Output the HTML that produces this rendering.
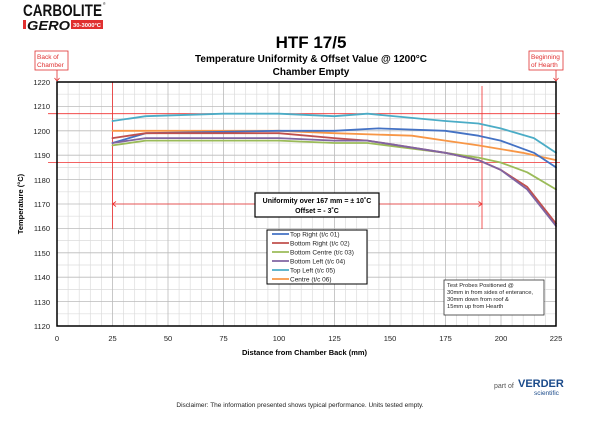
<!DOCTYPE html>
<html><head><meta charset="utf-8"><style>
body{margin:0;background:#fff;width:600px;height:416px;overflow:hidden;font-family:"Liberation Sans",sans-serif}
</style></head><body>
<svg width="600" height="416" viewBox="0 0 600 416" xmlns="http://www.w3.org/2000/svg" font-family="Liberation Sans, sans-serif">
<!-- logo -->
<text x="23" y="16" font-size="17" font-weight="bold" fill="#111" textLength="79" lengthAdjust="spacingAndGlyphs">CARBOLITE</text>
<text x="103" y="5" font-size="3.5" fill="#111">®</text>
<rect x="23" y="20" width="3" height="9" fill="#e03030"/>
<text x="27" y="30" font-size="13" font-weight="bold" font-style="italic" fill="#111" textLength="43" lengthAdjust="spacingAndGlyphs">GERO</text>
<rect x="71" y="20" width="32" height="9" fill="#e03030"/>
<text x="73" y="27" font-size="5.5" fill="#fff" font-weight="bold" textLength="28" lengthAdjust="spacingAndGlyphs">30-3000°C</text>
<!-- titles -->
<text x="311" y="48" font-size="17" font-weight="bold" text-anchor="middle" fill="#000">HTF 17/5</text>
<text x="311" y="62" font-size="10" font-weight="bold" text-anchor="middle">Temperature Uniformity &amp; Offset Value @ 1200°C</text>
<text x="311" y="75" font-size="10" font-weight="bold" text-anchor="middle">Chamber Empty</text>
<!-- annotations -->
<rect x="35" y="51" width="33" height="19" fill="#fff" stroke="#e03030" stroke-width="0.8"/>
<text x="37" y="59" font-size="6.5" fill="#e03030">Back of</text>
<text x="37" y="67" font-size="6.5" fill="#e03030">Chamber</text>
<path d="M57 70V81M54.5 78L57 81L59.5 78" stroke="#e03030" fill="none" stroke-width="0.8"/>
<rect x="529" y="51" width="34" height="19" fill="#fff" stroke="#e03030" stroke-width="0.8"/>
<text x="531" y="59" font-size="6.5" fill="#e03030">Beginning</text>
<text x="531" y="67" font-size="6.5" fill="#e03030">of Hearth</text>
<path d="M556 70V81M553.5 78L556 81L558.5 78" stroke="#e03030" fill="none" stroke-width="0.8"/>
<!-- grid -->
<g stroke="#dcdcdc" stroke-width="0.7">
<path d="M68.1 82V326M79.2 82V326M90.3 82V326M101.4 82V326M123.6 82V326M134.7 82V326M145.8 82V326M156.9 82V326M179.1 82V326M190.2 82V326M201.3 82V326M212.4 82V326M234.6 82V326M245.7 82V326M256.8 82V326M267.9 82V326M290.1 82V326M301.2 82V326M312.3 82V326M323.4 82V326M345.6 82V326M356.7 82V326M367.8 82V326M378.9 82V326M401.1 82V326M412.2 82V326M423.3 82V326M434.4 82V326M456.6 82V326M467.7 82V326M478.8 82V326M489.9 82V326M512.1 82V326M523.2 82V326M534.3 82V326M545.4 82V326"/>
<path d="M57 94.2H556M57 118.6H556M57 143H556M57 167.4H556M57 191.8H556M57 216.2H556M57 240.6H556M57 265H556M57 289.4H556M57 313.8H556"/>
</g>
<g stroke="#bbbbbb" stroke-width="0.8">
<path d="M112.5 82V326M168 82V326M223.5 82V326M279 82V326M334.5 82V326M390 82V326M445.5 82V326M501 82V326"/>
<path d="M57 106.4H556M57 130.8H556M57 155.2H556M57 179.6H556M57 204H556M57 228.4H556M57 252.8H556M57 277.2H556M57 301.6H556"/>
</g>
<!-- red markers -->
<g stroke="#f03030" stroke-width="0.8" fill="none">
<path d="M48 113.7H560M48 162.5H560M112.5 82V229M482 86V229"/>
<path d="M112.5 204H255M379 204H482M116 201.5L112.5 204L116 206.5M478.5 201.5L482 204L478.5 206.5"/>
</g>
<!-- series -->
<g fill="none" stroke-width="1.8" stroke-linejoin="round" stroke-linecap="round">
<polyline stroke="#4BACC6" points="112.5,121 145.7,116.2 223.4,113.7 278.8,113.7 334.3,116.2 367.5,113.7 445.2,121 478.4,123.5 500.6,128.4 533.9,138.1 556,152.8"/>
<polyline stroke="#F79646" points="112.5,130.8 278.8,130.8 334.3,133.2 411.9,135.7 445.2,140.6 478.4,145.4 522.8,152.8 556,160.1"/>
<polyline stroke="#4472C4" points="112.5,143 145.7,133.2 278.8,130.8 334.3,130.8 378.6,128.4 445.2,130.8 478.4,135.7 500.6,140.6 533.9,152.8 556,167.4"/>
<polyline stroke="#9BBB59" points="112.5,145.4 145.7,140.6 278.8,140.6 334.3,143 367.5,143 445.2,152.8 478.4,157.6 500.6,162.5 527.2,172.3 556,189.4"/>
<polyline stroke="#C0504D" points="112.5,138.1 145.7,133.2 278.8,133.2 334.3,138.1 367.5,140.6 445.2,152.8 478.4,160.1 500.6,169.8 527.2,186.9 556,223.5"/>
<polyline stroke="#8064A2" points="112.5,143 145.7,138.1 278.8,138.1 334.3,140.6 367.5,140.6 445.2,152.8 478.4,160.1 500.6,169.8 527.2,189.4 556,226"/>
</g>
<!-- plot border -->
<rect x="57" y="82" width="499" height="244" fill="none" stroke="#000" stroke-width="1.5"/>
<!-- y labels -->
<g font-size="7.5" text-anchor="end" fill="#222">
<text x="50" y="85">1220</text><text x="50" y="109">1210</text><text x="50" y="134">1200</text><text x="50" y="158">1190</text><text x="50" y="183">1180</text><text x="50" y="207">1170</text><text x="50" y="231">1160</text><text x="50" y="256">1150</text><text x="50" y="280">1140</text><text x="50" y="305">1130</text><text x="50" y="329">1120</text>
</g>
<text transform="translate(23 204) rotate(-90)" font-size="7.5" font-weight="bold" text-anchor="middle">Temperature (°C)</text>
<g font-size="7.5" text-anchor="middle" fill="#222">
<text x="57" y="341">0</text><text x="112.5" y="341">25</text><text x="168" y="341">50</text><text x="223.5" y="341">75</text><text x="279" y="341">100</text><text x="334.5" y="341">125</text><text x="390" y="341">150</text><text x="445.5" y="341">175</text><text x="501" y="341">200</text><text x="556" y="341">225</text>
</g>
<text x="242" y="355" font-size="7.5" font-weight="bold">Distance from Chamber Back  (mm)</text>
<!-- uniformity box -->
<rect x="255" y="193" width="124" height="24" fill="#fff" stroke="#000" stroke-width="1.2"/>
<text x="317" y="203" font-size="7" font-weight="bold" text-anchor="middle">Uniformity over 167 mm = ± 10˚C</text>
<text x="317" y="213" font-size="7" font-weight="bold" text-anchor="middle">Offset = - 3˚C</text>
<!-- legend -->
<rect x="267" y="230" width="100" height="54" fill="#fff" stroke="#000" stroke-width="1"/>
<g stroke-width="1.8">
<path d="M272 234H289" stroke="#4472C4"/><path d="M272 243H289" stroke="#C0504D"/><path d="M272 252H289" stroke="#9BBB59"/><path d="M272 261H289" stroke="#8064A2"/><path d="M272 270H289" stroke="#4BACC6"/><path d="M272 279H289" stroke="#F79646"/>
</g>
<g font-size="6.5" fill="#222">
<text x="290" y="236.5">Top Right (t/c 01)</text><text x="290" y="245.5">Bottom Right (t/c 02)</text><text x="290" y="254.5">Bottom Centre (t/c 03)</text><text x="290" y="263.5">Bottom Left (t/c 04)</text><text x="290" y="272.5">Top Left (t/c 05)</text><text x="290" y="281.5">Centre (t/c 06)</text>
</g>
<!-- probes box -->
<rect x="444" y="280" width="100" height="35" fill="#fff" stroke="#333" stroke-width="0.8"/>
<g font-size="5.8" fill="#222">
<text x="447" y="287">Test Probes Positioned @</text><text x="447" y="294">30mm in from sides of enterance,</text><text x="447" y="301">30mm down from roof &amp;</text><text x="447" y="308">15mm up from Hearth</text>
</g>
<!-- footer -->
<text x="494" y="388" font-size="7" fill="#555">part of</text>
<text x="518" y="387" font-size="11" font-weight="bold" fill="#1a4a8a">VERDER</text>
<text x="534" y="395" font-size="6.5" fill="#1a4a8a">scientific</text>
<text x="300" y="407" font-size="6.5" text-anchor="middle" fill="#222">Disclaimer: The information presented shows typical performance.  Units tested empty.</text>
</svg>
</body></html>
